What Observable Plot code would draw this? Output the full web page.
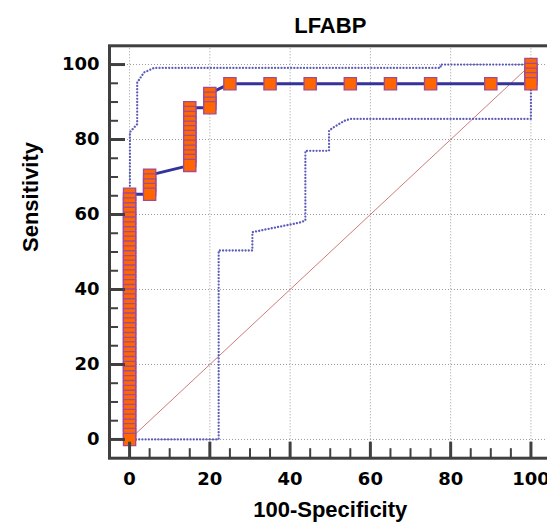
<!DOCTYPE html>
<html><head><meta charset="utf-8">
<script src="https://cdn.jsdelivr.net/npm/d3@7"></script>
<script src="https://cdn.jsdelivr.net/npm/@observablehq/plot@0.6"></script>
<style>body{margin:0;background:#fff;} svg{display:block}</style>
</head><body><div id="chart"></div>
<script>
const title = "LFABP";
const xLabel = "100-Specificity";
const yLabel = "Sensitivity";
const xTicks = [0, 20, 40, 60, 80, 100];
const yTicks = [0, 20, 40, 60, 80, 100];
const minorTicks = [5, 10, 15, 25, 30, 35, 45, 50, 55, 65, 70, 75, 85, 90, 95];

// ROC points: one stack of sensitivity values per 100-specificity value
const stackX = [0, 5, 15, 20, 25, 35, 45, 55, 65, 75, 90, 100];
const stackSens = [
  [0, 1.3, 2.6, 3.8, 5.1, 6.4, 7.7, 9.0, 10.3, 11.5, 12.8, 14.1, 15.4, 16.7, 17.9, 19.2, 20.5, 21.8, 23.1, 24.4,
   25.6, 26.9, 28.2, 29.5, 30.8, 32.1, 33.3, 34.6, 35.9, 37.2, 38.5, 39.7, 41.0, 42.3, 43.6, 44.9, 46.2, 47.4,
   48.7, 50.0, 51.3, 52.6, 53.8, 55.1, 56.4, 57.7, 59.0, 60.3, 61.5, 62.8, 64.1, 65.4],
  [65.4, 66.7, 67.9, 69.2, 70.5],
  [73.1, 74.4, 75.6, 76.9, 78.2, 79.5, 80.8, 82.1, 83.3, 84.6, 85.9, 87.2, 88.5],
  [88.5, 89.7, 91.0, 92.3],
  [94.9],
  [94.9],
  [94.9],
  [94.9],
  [94.9],
  [94.9],
  [94.9],
  [94.9, 96.2, 97.4, 98.7, 100]
];

// 95% confidence bounds (dotted)
const upperX = [0, 0.1, 1.9, 1.9, 3.6, 6.1, 77.5, 77.5, 100];
const upperY = [0, 82.0, 84.1, 95.2, 97.9, 99.1, 99.1, 100, 100];
const lowerX = [0, 22.2, 22.2, 30.6, 30.6, 42.6, 43.8, 43.8, 49.7, 49.7, 50.9, 53.5, 55.1, 100, 100];
const lowerY = [0, 0, 50.4, 50.4, 55.3, 57.9, 58.4, 77.0, 77.0, 82.4, 83.3, 85.0, 85.5, 85.5, 100];

// reference diagonal
const diagX = [0, 100];
const diagY = [0, 100];

const roc = stackX.flatMap((x, i) => stackSens[i].map(y => ({x, y})));
const upper = upperX.map((x, i) => ({x, y: upperY[i]}));
const lower = lowerX.map((x, i) => ({x, y: lowerY[i]}));
const diag = diagX.map((x, i) => ({x, y: diagY[i]}));

const W = 547, H = 522;
const mL = 109, mR = -3.5, mT = 45.3, mB = 64.3;
const plotW = W - mL - mR, plotH = H - mT - mB;
const axisColor = "#404040";
const tickFont = "DejaVu Sans, Verdana, sans-serif";
const ciStyle = {stroke: "#4a4ab4", strokeWidth: 2.3, strokeDasharray: "0.01,3.2", strokeLinecap: "round", strokeOpacity: 0.9, curve: "linear"};

const chart = Plot.plot({
  width: W, height: H,
  marginLeft: mL, marginRight: mR, marginTop: mT, marginBottom: mB,
  style: {fontFamily: "Liberation Sans, Arial, Helvetica, sans-serif", background: "#fff", overflow: "hidden"},
  x: {domain: [-5, 105]},
  y: {domain: [-5, 105]},
  marks: [
    Plot.ruleX(xTicks, {x: d => d, stroke: "#9a9a9a", strokeWidth: 1, strokeDasharray: "1,2"}),
    Plot.ruleY(yTicks, {y: d => d, stroke: "#9a9a9a", strokeWidth: 1, strokeDasharray: "1,2"}),
    Plot.line(diag, {x: "x", y: "y", stroke: "#c05a5a", strokeWidth: 0.8}),
    Plot.line(upper, {x: "x", y: "y", ...ciStyle}),
    Plot.line(lower, {x: "x", y: "y", ...ciStyle}),
    Plot.line(roc, {x: "x", y: "y", stroke: "#333399", strokeWidth: 3}),
    Plot.dot(roc.slice().reverse(), {x: "x", y: "y", symbol: "square", r: 6.9, fill: "#ff6600", stroke: "#a04a98", strokeWidth: 1.3}),
    Plot.frame({stroke: axisColor, strokeWidth: 3}),
    Plot.tickY(yTicks, {y: d => d, insetRight: plotW - 16, stroke: axisColor, strokeWidth: 3}),
    Plot.tickY(minorTicks, {y: d => d, insetRight: plotW - 9, stroke: axisColor, strokeWidth: 2}),
    Plot.tickX(xTicks, {x: d => d, insetTop: plotH - 16, stroke: axisColor, strokeWidth: 3}),
    Plot.tickX(minorTicks, {x: d => d, insetTop: plotH - 9.5, stroke: axisColor, strokeWidth: 2}),
    Plot.axisX({ticks: xTicks, tickSize: 0, tickPadding: 14, label: null, fontSize: 18, fontWeight: "bold", fontFamily: tickFont, fill: "#000"}),
    Plot.axisY({ticks: yTicks, tickSize: 0, tickPadding: 10, label: null, fontSize: 18, fontWeight: "bold", fontFamily: tickFont, fill: "#000"}),
    Plot.text([title], {text: d => d, frameAnchor: "top", lineAnchor: "bottom", dy: -13.3, fontSize: 22, fontWeight: "bold", fill: "#000"}),
    Plot.text([xLabel], {text: d => d, frameAnchor: "bottom", lineAnchor: "bottom", dy: 59, fontSize: 22, fontWeight: "bold", fill: "#000"}),
    Plot.text([yLabel], {text: d => d, frameAnchor: "left", rotate: -90, lineAnchor: "bottom", dx: -72, fontSize: 22, fontWeight: "bold", fill: "#000"})
  ]
});
document.getElementById("chart").appendChild(chart);
</script>
</body></html>
